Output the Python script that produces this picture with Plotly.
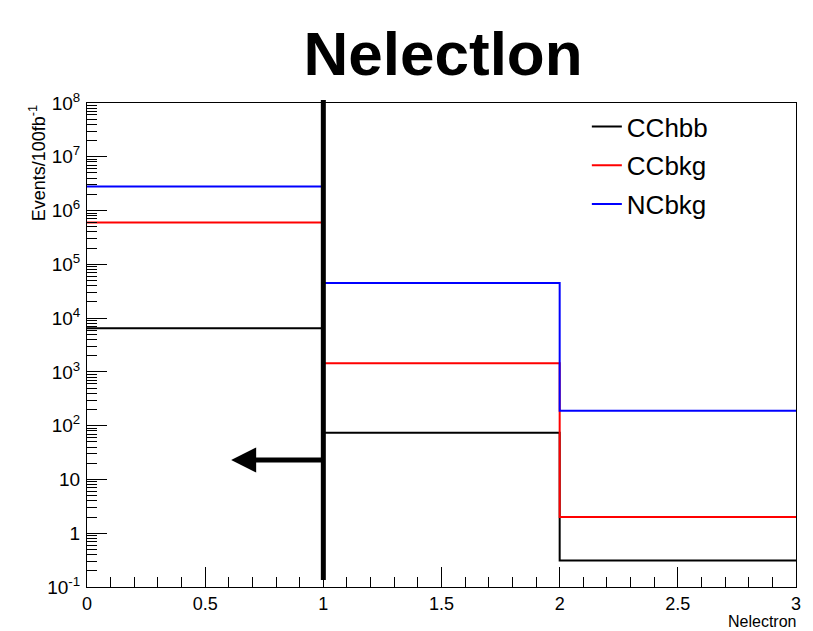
import plotly.graph_objects as go
import numpy as np

# Data
bin_edges = [0, 1, 2, 3]
series_names = ["CChbb", "CCbkg", "NCbkg"]
cchbb = [6.5e3, 74, 0.31]
ccbkg = [6.0e5, 1.45e3, 2.0]
ncbkg = [2.8e6, 4.5e4, 190]
colors = ["#000000", "#ff0000", "#0000ff"]
cut_value = 1
arrow_tip_x = 0.61
arrow_y = 23
y_tick_vals = [0.1, 1, 10, 100, 1e3, 1e4, 1e5, 1e6, 1e7, 1e8]
y_tick_text = ["10<sup>-1</sup>", "1", "10", "10<sup>2</sup>", "10<sup>3</sup>", "10<sup>4</sup>",
               "10<sup>5</sup>", "10<sup>6</sup>", "10<sup>7</sup>", "10<sup>8</sup>"]
x_tick_vals = [0, 0.5, 1, 1.5, 2, 2.5, 3]
x_tick_text = ["0", "0.5", "1", "1.5", "2", "2.5", "3"]

FONT = "Liberation Sans, Arial, Helvetica, sans-serif"

fig = go.Figure()
for name, vals, col in zip(series_names, [cchbb, ccbkg, ncbkg], colors):
    fig.add_trace(go.Scatter(
        x=bin_edges, y=list(vals) + [vals[-1]], mode="lines", line_shape="hv",
        line=dict(color=col, width=2), name=name, legendgroup=name,
    ))

# cut line
fig.add_shape(type="line", xref="x", yref="paper", x0=cut_value, x1=cut_value,
              y0=0.0145, y1=1.006, line=dict(color="black", width=5))
# arrow
fig.add_annotation(x=arrow_tip_x, y=np.log10(arrow_y), ax=cut_value, ay=np.log10(arrow_y),
                   xref="x", yref="y", axref="x", ayref="y", text="", showarrow=True,
                   arrowhead=2, arrowsize=1.0, arrowwidth=5, arrowcolor="black")

# axis titles
fig.add_annotation(x=1.003, y=-0.092, xref="paper", yref="paper", xanchor="right", yanchor="bottom",
                   text="Nelectron", showarrow=False, font=dict(size=16, color="black", family=FONT))
fig.add_annotation(x=-0.07, y=1.0, xref="paper", yref="paper", xanchor="center", yanchor="top",
                   text="Events/100fb<sup>-1</sup>", textangle=-90, showarrow=False,
                   font=dict(size=18, color="black", family=FONT))

fig.update_layout(
    width=813, height=631,
    margin=dict(l=87, r=15, t=103, b=44),
    paper_bgcolor="white", plot_bgcolor="white",
    font=dict(family=FONT, color="black", size=18),
    title=dict(text="<b>Nelectlon</b>", x=0.545, xanchor="center", y=0.915, yanchor="middle",
               font=dict(size=62, family=FONT, color="black")),
    legend=dict(x=0.705, y=1.0, xanchor="left", yanchor="top", bgcolor="rgba(0,0,0,0)",
                font=dict(size=26, family=FONT, color="black"), traceorder="grouped",
                tracegroupgap=2, itemwidth=30),
    showlegend=True,
)
fig.update_xaxes(range=[0, 3], showgrid=False, zeroline=False, showline=True, linecolor="black",
                 linewidth=1, mirror=True, ticks="inside", ticklen=20, tickcolor="black",
                 tickvals=x_tick_vals, ticktext=x_tick_text, tickfont=dict(size=18),
                 ticklabelstandoff=0,
                 minor=dict(ticks="inside", ticklen=10, dtick=0.1, tickcolor="black", showgrid=False))
fig.update_yaxes(type="log", range=[-1, 8], showgrid=False, zeroline=False, showline=True,
                 linecolor="black", linewidth=1, mirror=True, ticks="inside", ticklen=20,
                 tickcolor="black", tickvals=y_tick_vals, ticktext=y_tick_text, tickfont=dict(size=19),
                 ticklabelstandoff=2,
                 minor=dict(ticks="inside", ticklen=10, dtick="D1", tickcolor="black", showgrid=False))

fig.write_html("out.html")
